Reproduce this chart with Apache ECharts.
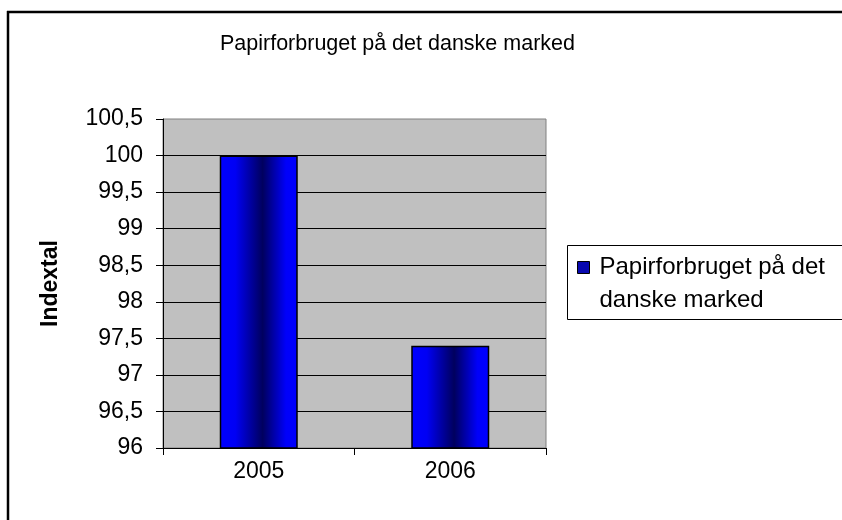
<!DOCTYPE html>
<html>
<head>
<meta charset="utf-8">
<script src="https://cdn.jsdelivr.net/npm/echarts@6/dist/echarts.min.js"></script>
<style>
html,body{margin:0;padding:0;background:#fff;}
#chart{width:842px;height:520px;}
</style>
</head>
<body>
<div id="chart"></div>
<script>
const titleText = 'Papirforbruget på det danske marked';
const categories = ['2005', '2006'];
const values = [100, 97.4];
const seriesName = 'Papirforbruget på det danske marked';
const legendLines = ['Papirforbruget på det', 'danske marked'];
const yAxisName = 'Indextal';
const yMin = 96;
const yMax = 100.5;
const yStep = 0.5;

const chart = echarts.init(document.getElementById('chart'), null, {renderer: 'canvas'});

const barGradient = new echarts.graphic.LinearGradient(0, 0, 1, 0, [
  {offset: 0, color: '#0000FF'},
  {offset: 0.2, color: '#0000F4'},
  {offset: 0.55, color: '#00005E'},
  {offset: 0.85, color: '#0000FA'},
  {offset: 1, color: '#0000FF'}
]);

const option = {
  animation: false,
  backgroundColor: '#ffffff',
  title: {
    text: titleText,
    left: 220,
    top: 33,
    padding: 0,
    textStyle: {fontFamily: 'Liberation Sans', fontSize: 21.5, fontWeight: 'normal', color: '#000'}
  },
  legend: {
    left: 577,
    top: 218,
    padding: 0,
    itemWidth: 12,
    itemHeight: 12,
    icon: 'rect',
    itemStyle: {color: '#0808B0', borderColor: '#000', borderWidth: 1},
    formatter: () => ' \n' + legendLines.map(l => '{t|' + l + '}').join('\n'),
    textStyle: {
      fontFamily: 'Liberation Sans', fontSize: 24, lineHeight: 33, color: '#000',
      rich: {t: {fontFamily: 'Liberation Sans', fontSize: 24, lineHeight: 33, color: '#000', padding: [0, 0, 0, 5]}}
    }
  },
  grid: {
    left: 163,
    right: 296,
    top: 119,
    bottom: 72,
    show: true,
    backgroundColor: '#C0C0C0',
    borderColor: '#808080',
    borderWidth: 1
  },
  xAxis: {
    type: 'category',
    data: categories,
    boundaryGap: true,
    axisLine: {lineStyle: {color: '#000', width: 1}},
    axisTick: {show: true, length: 7, inside: false, lineStyle: {color: '#000'}},
    axisLabel: {fontFamily: 'Liberation Sans', fontSize: 23, color: '#000', margin: 12},
    splitLine: {show: false}
  },
  yAxis: {
    type: 'value',
    min: yMin,
    max: yMax,
    interval: yStep,
    name: yAxisName,
    nameLocation: 'middle',
    nameRotate: 90,
    nameGap: 101,
    nameTextStyle: {fontFamily: 'Liberation Sans', fontSize: 23, fontWeight: 'bold', color: '#000'},
    axisLine: {show: true, lineStyle: {color: '#000', width: 1}},
    axisTick: {show: true, length: 7, inside: false, lineStyle: {color: '#000'}},
    axisLabel: {
      fontFamily: 'Liberation Sans', fontSize: 23, color: '#000', margin: 20,
      formatter: v => String(+v.toFixed(1)).replace('.', ',')
    },
    splitLine: {show: true, showMaxLine: false, showMinLine: false, lineStyle: {color: '#000', width: 1}}
  },
  series: [{
    name: seriesName,
    type: 'bar',
    data: values,
    barWidth: 78,
    itemStyle: {color: barGradient, borderColor: '#000', borderWidth: 1.5}
  }],
  graphic: [
    {type: 'line', shape: {x1: 7, y1: 12, x2: 842, y2: 12}, style: {stroke: '#000', lineWidth: 2.5}, silent: true},
    {type: 'line', shape: {x1: 8, y1: 11, x2: 8, y2: 520}, style: {stroke: '#000', lineWidth: 2.5}, silent: true},
    {type: 'rect', shape: {x: 567.5, y: 245.5, width: 290, height: 74}, style: {fill: 'none', stroke: '#000', lineWidth: 1}, silent: true}
  ]
};
chart.setOption(option);
</script>
</body>
</html>
